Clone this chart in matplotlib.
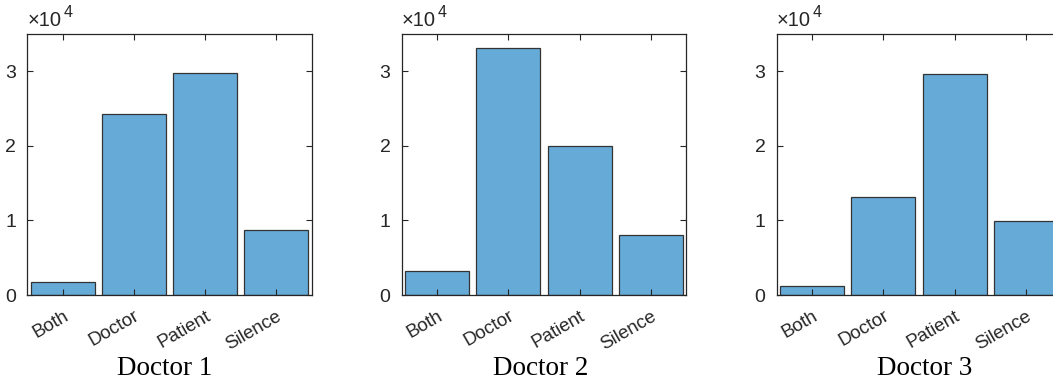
import matplotlib
matplotlib.use("Agg")
import matplotlib.pyplot as plt

categories = ["Both", "Doctor", "Patient", "Silence"]
doctor1 = [1700, 24300, 29800, 8750]
doctor2 = [3200, 33100, 20000, 8100]
doctor3 = [1150, 13100, 29600, 9950]
titles = ["Doctor 1", "Doctor 2", "Doctor 3"]
series = [doctor1, doctor2, doctor3]

W, H = 1053, 381
fig = plt.figure(figsize=(W / 100, H / 100), dpi=100)
plt.rcParams['font.family'] = ['Liberation Sans', 'DejaVu Sans']

lefts = [27.3, 401.7, 776.7]
title_centers = [164.5, 540.5, 925]
axw = 284.5
bottom_px, top_px = 295, 34
dark = '#262626'
face = (102 / 255, 170 / 255, 215 / 255)

for left, vals, title, tc in zip(lefts, series, titles, title_centers):
    ax = fig.add_axes([left / W, 1 - bottom_px / H, axw / W, (bottom_px - top_px) / H])
    x = list(range(1, len(categories) + 1))
    ax.bar(x, vals, width=0.9, color=face, edgecolor='#333333', linewidth=0.9)
    ax.set_xlim(0.5, 4.5)
    ax.set_ylim(0, 35000)
    ax.set_yticks([0, 10000, 20000, 30000])
    ax.set_yticklabels(["0", "1", "2", "3"], fontsize=14, color=dark)
    ax.set_xticks(x)
    ax.set_xticklabels(categories, rotation=30, fontsize=13.5, color=dark,
                       ha='right', va='top', rotation_mode='anchor')
    ax.tick_params(direction='in', length=4, width=0.8, color=dark,
                   top=True, right=True)
    ax.tick_params(axis='x', pad=9)
    ax.tick_params(axis='y', pad=8)
    for s in ax.spines.values():
        s.set_color(dark)
        s.set_linewidth(0.9)
    t1 = ax.text(0.0, 1.015, "\u00d710", transform=ax.transAxes, fontsize=14.5,
                 color=dark, ha='left', va='bottom')
    ax.annotate("4", xy=(1, 0.55), xycoords=t1, xytext=(1.5, 0),
                textcoords='offset points', fontsize=11.5, color=dark,
                ha='left', va='bottom')
    fig.text(tc / W, 1 - 375 / H, title, fontsize=19.5, family='Liberation Serif',
             color='black', ha='center', va='baseline')

fig.savefig("out.png", dpi=100)
